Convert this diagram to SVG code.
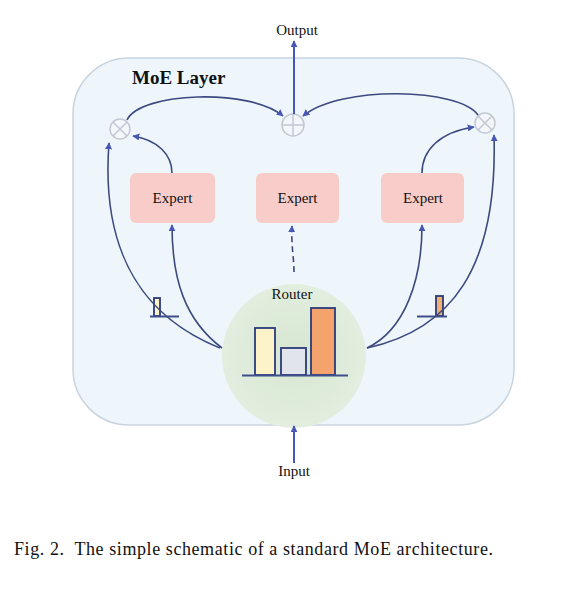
<svg xmlns="http://www.w3.org/2000/svg" width="587" height="595" viewBox="0 0 587 595">
<defs>
<marker id="ah" viewBox="0 0 10 10" refX="9" refY="5" markerWidth="7" markerHeight="7" orient="auto-start-reverse" markerUnits="userSpaceOnUse">
<path d="M0,0 L10,5 L0,10 z" fill="#4658b4"/>
</marker>
<radialGradient id="rg" cx="0.5" cy="0.5" r="0.5">
<stop offset="0" stop-color="#d6e6d0"/>
<stop offset="1" stop-color="#e2eedf"/>
</radialGradient>
</defs>
<style>
.t{font-family:"Liberation Serif","Times New Roman",serif;fill:#111}
.c{fill:none;stroke:#3d4a80;stroke-width:1.6}
.exp{fill:#f8cdc9;stroke:none}
.op{fill:#f3f6fa;stroke:#c3c8d4;stroke-width:1.5}
.bar{stroke:#2c3a7a;stroke-width:1.8}
.base{stroke:#3f4f8c;stroke-width:2}
</style>
<rect width="587" height="595" fill="#ffffff"/>
<g id="moe-layer">
<rect x="73" y="58" width="441" height="367" rx="56" fill="#eef6fb" stroke="#c8d4df" stroke-width="1.5"/>
<text class="t" x="132" y="84" font-size="19" font-weight="bold">MoE Layer</text>
</g>
<g id="router">
<circle cx="294" cy="356" r="72" fill="url(#rg)"/>
<text class="t" x="292" y="299" font-size="15" text-anchor="middle">Router</text>
<rect class="bar" x="255" y="328" width="20" height="47" fill="#fdf3c8"/>
<rect class="bar" x="281" y="348" width="25" height="27" fill="#e1e4ec"/>
<rect class="bar" x="311" y="308" width="24" height="67" fill="#f5a36c"/>
<line class="base" x1="242" y1="375.5" x2="348" y2="375.5"/>
</g>
<g id="expert-1">
<rect class="exp" x="130" y="173" width="85" height="50" rx="6"/>
<text class="t" x="172.5" y="203" font-size="15" text-anchor="middle">Expert</text>
</g>
<g id="expert-2">
<rect class="exp" x="256" y="173" width="83" height="50" rx="6"/>
<text class="t" x="297.5" y="203" font-size="15" text-anchor="middle">Expert</text>
</g>
<g id="expert-3">
<rect class="exp" x="381" y="173" width="83" height="50" rx="6"/>
<text class="t" x="423" y="203" font-size="15" text-anchor="middle">Expert</text>
</g>
<g id="mul-left">
<circle class="op" cx="120" cy="129" r="10"/>
<path d="M113,122 L127,136 M127,122 L113,136" stroke="#c3c8d4" stroke-width="1.5"/>
</g>
<g id="add-center">
<circle class="op" cx="293" cy="125" r="11"/>
<path d="M282,125 L304,125 M293,114 L293,136" stroke="#c3c8d4" stroke-width="1.5"/>
</g>
<g id="mul-right">
<circle class="op" cx="485" cy="123" r="10"/>
<path d="M478,116 L492,130 M492,116 L478,130" stroke="#c3c8d4" stroke-width="1.5"/>
</g>
<g id="gate-left">
<rect class="bar" x="154" y="298" width="6" height="18" fill="#fdf3c8" stroke-width="1.3"/>
<line class="base" x1="150" y1="316.5" x2="179" y2="316.5" stroke-width="1.6"/>
</g>
<g id="gate-right">
<rect class="bar" x="436" y="296" width="7" height="20" fill="#f0b070" stroke-width="1.3"/>
<line class="base" x1="417" y1="316.5" x2="447" y2="316.5" stroke-width="1.6"/>
</g>
<g id="connectors">
<path class="c" d="M220,348 C150,320 100,260 109,143" marker-end="url(#ah)"/>
<path class="c" d="M222,348 C185,320 172,280 172,225" marker-end="url(#ah)"/>
<path class="c" d="M172,173 C172,155 158,140 133,136" marker-end="url(#ah)"/>
<path class="c" d="M127,120 C140,92 250,88 283,116" marker-end="url(#ah)"/>
<path class="c" d="M478,115 C460,88 340,85 303,116" marker-end="url(#ah)"/>
<path class="c" d="M422,173 C422,150 440,132 474,127" marker-end="url(#ah)"/>
<path class="c" d="M367,348 C405,330 422,280 422,225" marker-end="url(#ah)"/>
<path class="c" d="M367,348 C450,330 498,270 494,135" marker-end="url(#ah)"/>
<path class="c" d="M294,272 C294,258 291,245 292,226" stroke-dasharray="6,4" marker-end="url(#ah)"/>
<line x1="294" y1="114" x2="294" y2="41" stroke="#4658b4" stroke-width="2" marker-end="url(#ah)"/>
<line x1="294" y1="463" x2="294" y2="426" stroke="#4658b4" stroke-width="2" marker-end="url(#ah)"/>
</g>
<text class="t" x="297" y="35" font-size="15" text-anchor="middle">Output</text>
<text class="t" x="294" y="476" font-size="15" text-anchor="middle">Input</text>
<text class="t" x="14" y="555" font-size="18" textLength="479" lengthAdjust="spacing" xml:space="preserve">Fig. 2.  The simple schematic of a standard MoE architecture.</text>
</svg>
